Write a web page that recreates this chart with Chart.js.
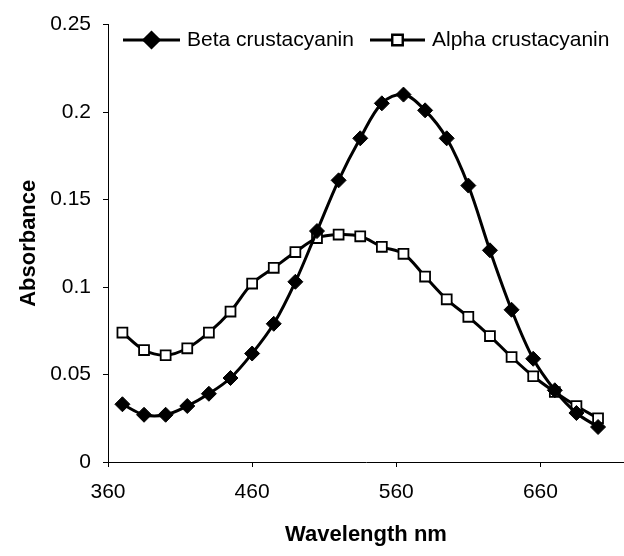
<!DOCTYPE html>
<html>
<head>
<meta charset="utf-8">
<title>Crustacyanin absorbance</title>
<script src="https://cdn.jsdelivr.net/npm/chart.js@4/dist/chart.umd.min.js"></script>
<style>
  html, body { margin: 0; padding: 0; background: #fff; overflow: hidden; }
  #chart { display: block; }
</style>
</head>
<body>
<canvas id="chart" width="624" height="556"></canvas>
<script>
/* ========= DATA ========= */
const wavelengths = [370, 385, 400, 415, 430, 445, 460, 475, 490, 505, 520, 535,
                     550, 565, 580, 595, 610, 625, 640, 655, 670, 685, 700];
const betaValues  = [0.033, 0.027, 0.027, 0.032, 0.039, 0.048, 0.062, 0.079, 0.103, 0.132, 0.161, 0.185,
                     0.205, 0.210, 0.201, 0.185, 0.158, 0.121, 0.087, 0.059, 0.041, 0.028, 0.020];
const alphaValues = [0.074, 0.064, 0.061, 0.065, 0.074, 0.086, 0.102, 0.111, 0.120, 0.128, 0.130, 0.129,
                     0.123, 0.119, 0.106, 0.093, 0.083, 0.072, 0.060, 0.049, 0.040, 0.032, 0.025];
const xTicks = [360, 460, 560, 660];
const yTicks = [0, 0.05, 0.1, 0.15, 0.2, 0.25];

const FONT = "'Liberation Sans', Arial, sans-serif";

function toPoints(values) {
  return values.map((v, i) => ({ x: wavelengths[i], y: v }));
}

/* ========= LEGEND (line with marker in the middle, Excel style) ========= */
const lineLegend = {
  id: "lineLegend",
  afterDraw(chart) {
    const ctx = chart.ctx;
    const items = [
      { ds: chart.data.datasets[0], x0: 123, x1: 180, tx: 187 },
      { ds: chart.data.datasets[1], x0: 370, x1: 425, tx: 432 }
    ];
    const y = 40;
    ctx.save();
    items.forEach(it => {
      ctx.strokeStyle = it.ds.borderColor;
      ctx.lineWidth = it.ds.borderWidth;
      ctx.beginPath();
      ctx.moveTo(it.x0, y);
      ctx.lineTo(it.x1, y);
      ctx.stroke();
      Chart.helpers.drawPoint(ctx, {
        pointStyle: it.ds.pointStyle,
        radius: it.ds.pointRadius,
        borderWidth: it.ds.pointBorderWidth
      }, (it.x0 + it.x1) / 2, y);
      ctx.fillStyle = it.ds.pointBackgroundColor;
      ctx.strokeStyle = it.ds.pointBorderColor;
      ctx.lineWidth = it.ds.pointBorderWidth;
      ctx.fill();
      ctx.stroke();
      ctx.fillStyle = "#000";
      ctx.font = "21px " + FONT;
      ctx.textBaseline = "middle";
      ctx.fillText(it.ds.label, it.tx, y);
    });
    ctx.restore();
  }
};

/* ========= CREATE CHART ========= */
const axisStyle = {
  border: { display: true, color: "#000", width: 1 },
  grid: { display: true, drawOnChartArea: false, drawTicks: true, tickLength: 5, color: "#000", lineWidth: 1 }
};

new Chart(document.getElementById("chart"), {
  type: "line",
  data: {
    datasets: [{
      label: "Beta crustacyanin",
      data: toPoints(betaValues),
      borderColor: "#000",
      borderWidth: 3,
      pointStyle: "rectRot",
      pointRadius: 7.5,
      pointBackgroundColor: "#000",
      pointBorderColor: "#000",
      pointBorderWidth: 1,
      tension: 0.35,
      fill: false
    }, {
      label: "Alpha crustacyanin",
      data: toPoints(alphaValues),
      borderColor: "#000",
      borderWidth: 3,
      pointStyle: "rect",
      pointRadius: 7,
      pointBackgroundColor: "#fff",
      pointBorderColor: "#000",
      pointBorderWidth: 1.8,
      tension: 0.35,
      fill: false
    }]
  },
  options: {
    responsive: false,
    animation: false,
    layout: { autoPadding: false, padding: { top: 19, right: 0, bottom: 0, left: 0 } },
    plugins: { legend: { display: false }, tooltip: { enabled: false } },
    scales: {
      x: {
        type: "linear",
        min: 360,
        max: 718,
        ...axisStyle,
        afterBuildTicks: s => { s.ticks = xTicks.map(v => ({ value: v })); },
        afterFit: s => { s.height = 94; },
        ticks: { color: "#000", font: { family: FONT, size: 21 }, padding: 13, maxRotation: 0 },
        title: {
          display: true, text: "Wavelength nm", color: "#000",
          font: { family: FONT, size: 22, weight: "bold" }, padding: { top: 0, bottom: 8 }
        }
      },
      y: {
        min: 0,
        max: 0.25,
        ...axisStyle,
        afterBuildTicks: s => { s.ticks = yTicks.map(v => ({ value: v })); },
        afterFit: s => { s.width = 108; },
        ticks: {
          color: "#000", font: { family: FONT, size: 21 }, padding: 12,
          callback: v => String(+v.toFixed(2))
        },
        title: {
          display: true, text: "Absorbance", color: "#000",
          font: { family: FONT, size: 22, weight: "bold" }, padding: { top: 16, bottom: 0 }
        }
      }
    }
  },
  plugins: [lineLegend]
});
</script>
</body>
</html>
